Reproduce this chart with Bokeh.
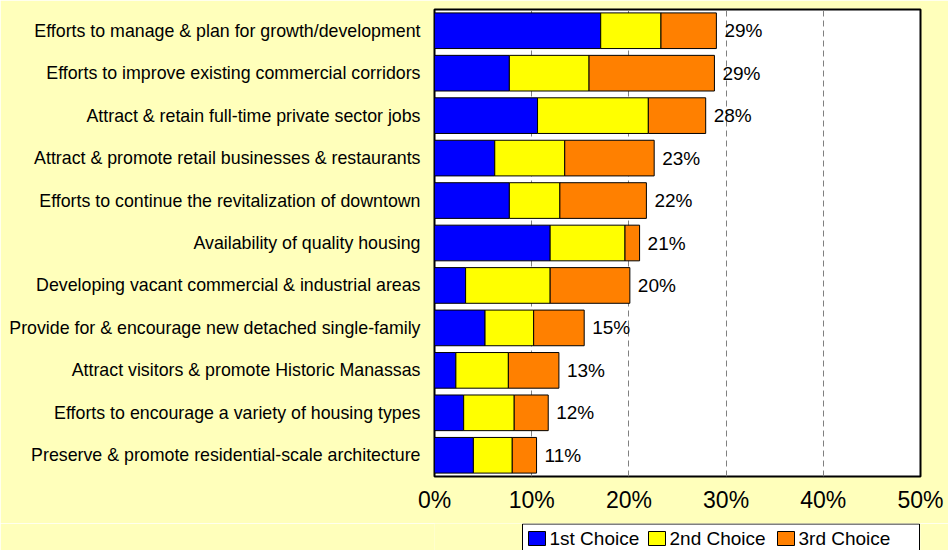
from bokeh.plotting import figure
from bokeh.layouts import column
from bokeh.models import (ColumnDataSource, FactorRange, Range1d, FixedTicker,
                          PrintfTickFormatter)
from bokeh.embed import file_html
from bokeh.resources import INLINE
from bokeh.core.properties import value

categories = [
    "Efforts to manage & plan for growth/development",
    "Efforts to improve existing commercial corridors",
    "Attract & retain full-time private sector jobs",
    "Attract & promote retail businesses & restaurants",
    "Efforts to continue the revitalization of downtown",
    "Availability of quality housing",
    "Developing vacant commercial & industrial areas",
    "Provide for & encourage new detached single-family",
    "Attract visitors & promote Historic Manassas",
    "Efforts to encourage a variety of housing types",
    "Preserve & promote residential-scale architecture",
]
first_choice = [17.1, 7.7, 10.6, 6.2, 7.7, 11.9, 3.2, 5.2, 2.2, 3.0, 4.0]
second_choice = [6.2, 8.2, 11.4, 7.2, 5.2, 7.7, 8.7, 5.0, 5.4, 5.2, 4.0]
third_choice = [5.7, 12.9, 5.9, 9.2, 8.9, 1.5, 8.2, 5.2, 5.2, 3.5, 2.5]
total_labels = ["29%", "29%", "28%", "23%", "22%", "21%", "20%", "15%", "13%", "12%", "11%"]
series_names = ["1st Choice", "2nd Choice", "3rd Choice"]
x_ticks = [0, 10, 20, 30, 40, 50]

BG = "#FFFFBB"
FONT = "Liberation Sans"
colors = ["#0000FF", "#FFFF00", "#FF8000"]

FIG_W = 948
BORDER_L, BORDER_R = 434, 28

totals = [a + b + c for a, b, c in zip(first_choice, second_choice, third_choice)]
src = ColumnDataSource(dict(cat=categories, first=first_choice, second=second_choice,
                            third=third_choice, total=totals, label=total_labels))

p = figure(width=FIG_W, height=523,
           y_range=FactorRange(factors=list(reversed(categories))),
           x_range=Range1d(0, 50),
           output_backend="svg", toolbar_location=None,
           min_border_left=BORDER_L, min_border_right=BORDER_R, min_border_top=9, min_border_bottom=47,
           background_fill_color="white", border_fill_color=BG,
           outline_line_color="black", outline_line_width=2)

p.hbar_stack(["first", "second", "third"], y="cat", height=0.84,
             color=colors, line_color="black", line_width=1, source=src)

p.text(x="total", y="cat", text="label", x_offset=8, text_baseline="middle",
       text_align="left", text_font=value(FONT), text_font_size="19px",
       text_color="black", source=src)

p.yaxis.major_label_text_font = FONT
p.yaxis.major_label_text_font_size = "17.8px"
p.yaxis.major_label_text_color = "black"
p.yaxis.major_tick_line_color = None
p.yaxis.minor_tick_line_color = None
p.yaxis.axis_line_color = None
p.yaxis.major_label_standoff = 8

p.xaxis.ticker = FixedTicker(ticks=x_ticks)
p.xaxis.formatter = PrintfTickFormatter(format="%d%%")
p.xaxis.major_label_text_font = FONT
p.xaxis.major_label_text_font_size = "23px"
p.xaxis.major_label_text_color = "black"
p.xaxis.major_tick_line_color = None
p.xaxis.minor_tick_line_color = None
p.xaxis.axis_line_color = None
p.xaxis.major_label_standoff = 4

p.xgrid.ticker = FixedTicker(ticks=x_ticks)
p.xgrid.grid_line_color = "#808080"
p.xgrid.grid_line_dash = "6 4"
p.xgrid.grid_line_width = 1
p.ygrid.grid_line_color = None

# legend strip below the chart (frame aligned with the chart frame, pixel units)
LEG_H = 27
box_left, box_right = 522, 919
swatch_left = [528, 648, 777]
swatch_w, swatch_h, swatch_gap = 17, 14, 4
item_cy = 12

p2 = figure(width=FIG_W, height=LEG_H,
            x_range=Range1d(BORDER_L, FIG_W - BORDER_R), y_range=Range1d(0, LEG_H),
            output_backend="svg", toolbar_location=None,
            x_axis_type=None, y_axis_type=None,
            min_border_left=BORDER_L, min_border_right=BORDER_R,
            min_border_top=0, min_border_bottom=0,
            background_fill_color=BG, border_fill_color=BG, outline_line_color=None)
p2.grid.grid_line_color = None

p2.quad(left=[box_left], right=[box_right], top=[LEG_H - 0.5], bottom=[-10],
        fill_color="white", line_color="black", line_width=1)
p2.quad(left=swatch_left, right=[x + swatch_w for x in swatch_left],
        top=[item_cy + swatch_h / 2] * 3, bottom=[item_cy - swatch_h / 2] * 3,
        fill_color=colors, line_color="black", line_width=1)
p2.text(x=[x + swatch_w + swatch_gap for x in swatch_left], y=[item_cy] * 3,
        text=series_names, text_baseline="middle", text_align="left",
        text_font=value(FONT), text_font_size="19px", text_color="black")

open("out.html", "w").write(file_html(column(p, p2, spacing=0), INLINE))
